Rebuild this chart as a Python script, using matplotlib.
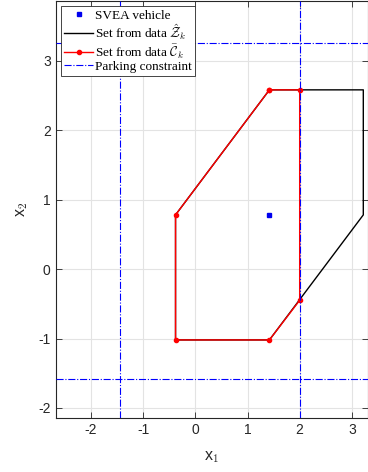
import matplotlib
matplotlib.use("Agg")
import matplotlib.pyplot as plt

# Data
vehicle_x = [1.42]
vehicle_y = [0.78]

z_x = [1.42, 3.22, 3.22, 1.42, -0.38, -0.38, 1.42]
z_y = [2.58, 2.58, 0.78, -1.02, -1.02, 0.78, 2.58]

c_x = [1.42, 2.0, 2.0, 1.42, -0.38, -0.38, 1.42]
c_y = [2.58, 2.58, -0.45, -1.02, -1.02, 0.78, 2.58]

park_xmin, park_xmax = -1.45, 2.0
park_ymin, park_ymax = -1.58, 3.26

xticks = [-2, -1, 0, 1, 2, 3]
yticks = [-2, -1, 0, 1, 2, 3]

plt.rcParams['font.family'] = ['Liberation Sans', 'DejaVu Sans']
plt.rcParams['mathtext.fontset'] = 'cm'

fig = plt.figure(figsize=(3.68, 4.72), dpi=100)
ax = fig.add_axes([0.151, 0.115, 0.849, 0.883])

ax.plot(vehicle_x, vehicle_y, 's', color='#0000ee', markersize=3.5, linestyle='none',
        label='SVEA vehicle', zorder=5)
ax.plot(z_x, z_y, '-', color='black', linewidth=1.0, label=r'Set from data $\hat{\mathcal{Z}}_k$', zorder=3)
ax.plot(c_x, c_y, '-', color='red', linewidth=1.0, marker='o', markersize=3,
        label=r'Set from data $\bar{\mathcal{C}}_k$', zorder=4)
ax.axvline(park_xmin, color='#0000ff', linestyle='-.', linewidth=0.8, label='Parking constraint', zorder=6)
ax.axvline(park_xmax, color='#0000ff', linestyle='-.', linewidth=0.8, zorder=6)
ax.axhline(park_ymin, color='#0000ff', linestyle='-.', linewidth=0.8, zorder=6)
ax.axhline(park_ymax, color='#0000ff', linestyle='-.', linewidth=0.8, zorder=6)

ax.set_xlim(-2.68, 3.31)
ax.set_ylim(-2.14, 3.86)
ax.set_xticks(xticks)
ax.set_yticks(yticks)
ax.set_xticklabels([str(t) for t in xticks])
ax.set_yticklabels([str(t) for t in yticks])
ax.grid(True, color='#e3e3e3', linewidth=0.8)
ax.set_axisbelow(True)
ax.tick_params(direction='in', top=True, right=True, length=4, width=0.6,
               color='#262626', labelsize=10, labelcolor='#262626')
for s in ax.spines.values():
    s.set_color('#262626')
    s.set_linewidth(0.8)

ax.set_xlabel(r'x$_1$', fontsize=11.5, color='#262626', labelpad=9)
ax.set_ylabel(r'x$_2$', fontsize=11.5, color='#262626', labelpad=6)

leg = ax.legend(loc='upper left', prop={'family': 'Liberation Serif', 'size': 9.5},
                frameon=True, fancybox=False, edgecolor='#262626', framealpha=1,
                borderpad=0.25, labelspacing=0.02, handlelength=2.2, handletextpad=0.15,
                borderaxespad=0.4)
leg.get_frame().set_linewidth(0.6)
leg.set_zorder(20)

fig.savefig('out.png', dpi=100)
